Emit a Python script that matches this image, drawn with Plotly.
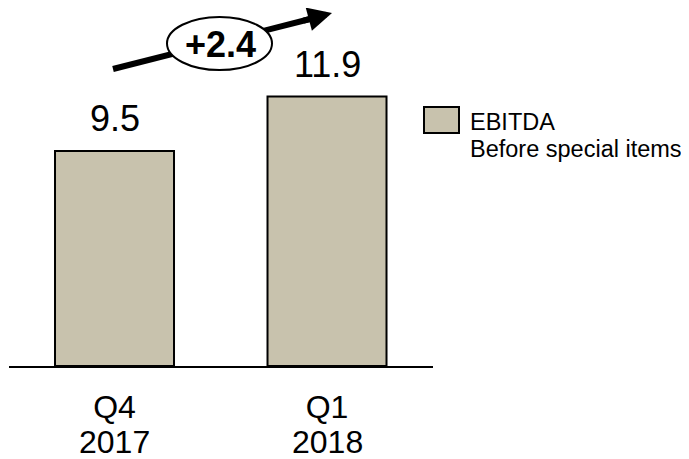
import plotly.graph_objects as go

quarters = ["Q4", "Q1"]
years = ["2017", "2018"]
ebitda = [9.5, 11.9]
delta_label = "+2.4"
legend_line1 = "EBITDA"
legend_line2 = "Before special items"

BAR_COLOR = "#C8C2AD"
OFF = 8  # page body margin
W, H = 689 - OFF, 459 - OFF
ML, MR, MT, MB = 1, 256, 0, 93
PW, PH = W - ML - MR, H - MT - MB
FONT = "Liberation Sans, Arial, sans-serif"


def px(x):
    return (x - OFF - ML) / PW


def py(y):
    return (H - MB - (y - OFF)) / PH


fig = go.Figure()
fig.add_trace(go.Bar(
    x=quarters, y=ebitda, name=legend_line1,
    marker=dict(color=BAR_COLOR, line=dict(color="black", width=2)),
    width=0.56, showlegend=False, hoverinfo="skip",
))

# value labels above bars
for c, v in zip(quarters, ebitda):
    fig.add_annotation(x=c, y=v, xref="x", yref="y", text=f"{v}",
                       showarrow=False, yanchor="bottom", yshift=10,
                       font=dict(size=36, color="black", family=FONT))

# second line of the category labels (years)
for c, yr in zip(quarters, years):
    fig.add_annotation(x=c, y=0, xref="x", yref="y", text=yr,
                       showarrow=False, yanchor="middle", yshift=-76,
                       font=dict(size=32, color="black", family=FONT))

# trend arrow line, ellipse and label
fig.add_shape(type="line", xref="paper", yref="paper",
              x0=px(113), y0=py(69), x1=px(318), y1=py(17),
              line=dict(color="black", width=6))
fig.add_annotation(xref="paper", yref="paper", axref="pixel", ayref="pixel",
                   x=px(332), y=py(13), ax=-30, ay=8, text="",
                   showarrow=True, arrowhead=2, arrowsize=0.8, arrowwidth=6,
                   arrowcolor="black", standoff=0)
fig.add_shape(type="circle", xref="paper", yref="paper",
              x0=px(167), x1=px(272), y0=py(70), y1=py(17),
              fillcolor="white", line=dict(color="black", width=2))
fig.add_annotation(xref="paper", yref="paper", x=px(220), y=py(44),
                   text=f"<b>{delta_label}</b>", showarrow=False,
                   xanchor="center", yanchor="middle",
                   font=dict(size=36, color="black", family=FONT))

# legend
fig.add_shape(type="rect", xref="paper", yref="paper",
              x0=px(424), x1=px(459), y0=py(133), y1=py(107),
              fillcolor=BAR_COLOR, line=dict(color="black", width=2))
fig.add_annotation(xref="paper", yref="paper", x=px(468), y=py(122),
                   text=legend_line1, showarrow=False, xanchor="left",
                   yanchor="middle", font=dict(size=23.5, color="black", family=FONT))
fig.add_annotation(xref="paper", yref="paper", x=px(468), y=py(149),
                   text=legend_line2, showarrow=False, xanchor="left",
                   yanchor="middle", font=dict(size=23.5, color="black", family=FONT))

fig.update_layout(
    width=W, height=H,
    margin=dict(l=ML, r=MR, t=MT, b=MB),
    paper_bgcolor="white", plot_bgcolor="white",
    showlegend=False,
    xaxis=dict(type="category", range=[-0.4965, 1.4988],
               showline=True, linecolor="black", linewidth=2,
               showgrid=False, zeroline=False, ticks="",
               tickfont=dict(size=32, color="black", family=FONT),
               ticklabelstandoff=12),
    yaxis=dict(range=[0, 15.81], visible=False, showgrid=False, zeroline=False),
)

fig.write_html("out.html")
